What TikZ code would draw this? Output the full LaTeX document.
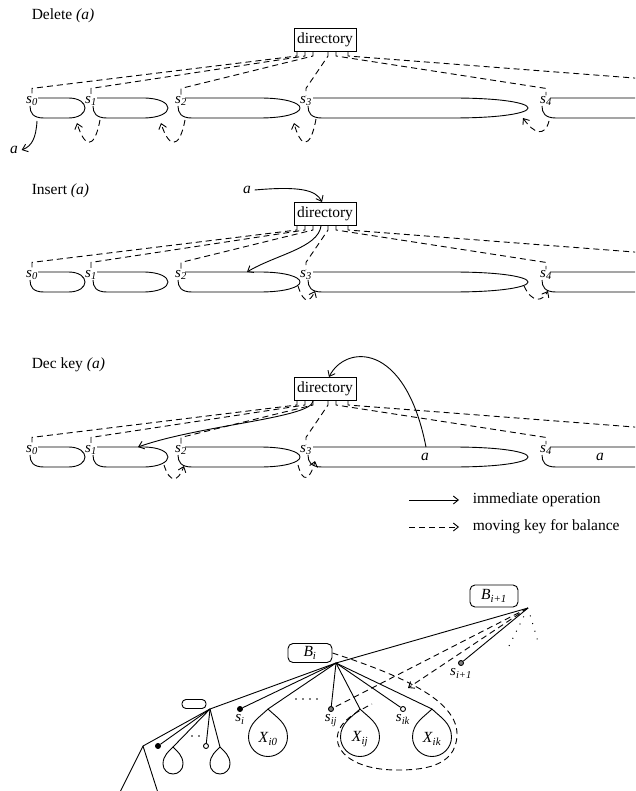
\documentclass[tikz,border=0pt]{standalone}
\usepackage{fontspec}
\setmainfont{Liberation Serif}
\usetikzlibrary{calc,positioning,arrows.meta}

% one block of keys lying on its side
\newcommand\keyloop[4]{%
  \pgfmathsetmacro\endlen{0.35*(#3-#2)}
  \draw (#2,#4) -- ({#3-\endlen},#4) .. controls ({#3-0.35*\endlen},#4) and (#3,{#4+5}) .. (#3,{#4+10})
    .. controls (#3,{#4+15}) and ({#3-0.35*\endlen},{#4+20}) .. ({#3-\endlen},{#4+20})
    -- ({#1+14},{#4+20}) .. controls ({#1+3},{#4+20}) and (#1,{#4+15}) .. (#1,{#4+8});
}
% subtree hanging from a named apex
\newcommand\teardrop[3]{%
  \draw (#1) .. controls +({-0.4*#2},{0.4*#2}) and +(0,{-0.5*#3}) .. ++({-#2},#3)
    .. controls +(0,{0.55*#2}) and +({-0.55*#2},0) .. ++(#2,#2)
    .. controls +({0.55*#2},0) and +(0,{0.55*#2}) .. ++(#2,{-#2})
    .. controls +(0,{-0.5*#3}) and +({0.4*#2},{0.4*#2}) .. (#1);
}
\tikzset{
  dirbox/.style={draw, rectangle, inner xsep=3pt, inner ysep=4.5pt},
  keylbl/.style={inner sep=0.5pt, font=\fontsize{15}{15}\selectfont},
  bbox/.style={draw, rounded corners=5pt, inner sep=1pt},
  mv/.style={dash pattern=on 6pt off 4pt},
  fdot/.style={circle, draw, fill=black, inner sep=0pt, minimum size=5pt},
  gdot/.style={circle, draw, fill=gray, inner sep=0pt, minimum size=5pt},
  odot/.style={circle, draw, fill=white, inner sep=0pt, minimum size=5pt},
}
% directory, blocks and the dashed pointers of one panel
\newcommand\keypanel[2]{%
  \begin{scope}[shift={(0,#2)}]
    \node[dirbox] (#1dir) at (325,40) {directory};
    \foreach \x/\n in {32/0,91/1,181/2,306/3,546/4}
      \node[keylbl] (#1s\n) at (\x,101) {\textit{s}\textsubscript{\textit{\n}}};
    \keyloop{30}{38}{85}{98}
    \keyloop{93}{97}{168}{98}
    \keyloop{178}{185}{300}{98}
    \keyloop{308}{313}{528}{98}
    \keyloop{542}{550}{720}{98}
    \foreach \dx/\n in {-28/0,-20/1,-12/2,3/3,11/4}
      \draw[mv] ([xshift=\dx pt]#1dir.south) -- ++(0,4) -- ($(#1s\n.north)+(0,-7)$) -- (#1s\n.north);
    \draw[mv] ([xshift=23pt]#1dir.south) -- ++(0,4) -- (660,80);
  \end{scope}
}

\begin{document}
\begin{tikzpicture}[x=1pt,y=-1pt,line width=0.9pt,font=\fontsize{15.5}{18}\selectfont,
  >={Straight Barb[length=5pt,width=8pt]}]
  \useasboundingbox (0,0) rectangle (635,791);
  \clip (0,0) rectangle (635,791);

  % delete
  \node[anchor=west] (tdel) at (28,16) {Delete \textit{(a)}};
  \keypanel{d}{0}
  \node (da) at (14,150) {\textit{a}};
  \coordinate (d0b) at (37,121);
  \draw[->] (d0b) .. controls (36,138) and (32,146) .. (da.east);
  \coordinate (d0e) at (77,123);
  \coordinate (d1s) at (100,120);
  \coordinate (d1e) at (161,123);
  \coordinate (d2s) at (185,120);
  \coordinate (d2e) at (294,123);
  \coordinate (d3s) at (316,119);
  \coordinate (d3e) at (523,118);
  \coordinate (d4s) at (549,121);
  \draw[mv,->] (d1s) .. controls (94,152) and (84,146) .. (d0e);
  \draw[mv,->] (d2s) .. controls (179,152) and (168,146) .. (d1e);
  \draw[mv,->] (d3s) .. controls (310,152) and (300,146) .. (d2e);
  \draw[mv,->] (d4s) .. controls (545,137) and (534,134) .. (d3e);

  % insert
  \node[anchor=west] (tins) at (28,191) {Insert \textit{(a)}};
  \keypanel{i}{174}
  \node (ia) at (247,190) {\textit{a}};
  \draw[->] (ia.east) .. controls (300,186) and (316,190) .. ([xshift=-3pt]idir.north);
  \coordinate (i2t) at (247,272);
  \draw[->] ([xshift=-4pt]idir.south) .. controls (318,248) and (275,255) .. (i2t);
  \coordinate (i2e) at (298,286);
  \coordinate (i3s) at (315,291);
  \coordinate (i3e) at (524,286);
  \coordinate (i4s) at (548,291);
  \draw[mv,->] (i2e) .. controls (304,305) and (310,302) .. (i3s);
  \draw[mv,->] (i3e) .. controls (532,303) and (542,302) .. (i4s);

  % decrease key
  \node[anchor=west] (tdec) at (28,365) {Dec key \textit{(a)}};
  \keypanel{k}{349}
  \node (ka3) at (425,457) {\textit{a}};
  \node (ka4) at (600,457) {\textit{a}};
  \coordinate (k3t) at (426,447);
  \draw[->] (k3t) .. controls (405,340) and (345,345) .. ([xshift=4pt]kdir.north);
  \coordinate (k1t) at (138,447);
  \draw[->] ([xshift=-12pt]kdir.south) .. controls (312,418) and (200,425) .. (k1t);
  \coordinate (k1e) at (164,465);
  \coordinate (k2s) at (184,466);
  \coordinate (k2e) at (298,465);
  \coordinate (k3s) at (315,461);
  \draw[mv,->] (k1e) .. controls (170,484) and (178,482) .. (k2s);
  \draw[mv,->] (k2e) .. controls (303,484) and (310,480) .. (k3s);

  % legend
  \node[anchor=west] (leg1) at (469,500) {immediate operation};
  \node[anchor=west] (leg2) at (469,527) {moving key for balance};
  \draw[->] ([xshift=-60pt]leg1.west) -- ([xshift=-10pt]leg1.west);
  \draw[mv,->] ([xshift=-60pt]leg2.west) -- ([xshift=-10pt]leg2.west);

  % buckets
  \node[bbox, minimum width=48pt, minimum height=22pt] (bup) at (494,596) {\textit{B}\textsubscript{\textit{i+1}}};
  \node[bbox, minimum width=44pt, minimum height=19pt] (bcur) at (310,653) {\textit{B}\textsubscript{\textit{i}}};
  \node[bbox, minimum width=24pt, minimum height=9pt, rounded corners=4pt] (blow) at (194,704) {};
  \coordinate (pup) at (528,608);
  \coordinate (pcur) at (336,663);
  \coordinate (plow) at (210,709);
  \coordinate (pbot) at (143,746);
  \coordinate (ebl) at (118,796);
  \coordinate (ebr) at (159,796);
  \draw (pup) -- (pcur) -- (plow) -- (pbot) -- (ebl);
  \draw (pbot) -- (ebr);

  \node[fdot] (si) at (240,709) {};
  \node[gdot] (sij) at (331,709) {};
  \node[odot] (sik) at (403,709) {};
  \node[gdot] (sup) at (461,663) {};
  \node[fdot] (sa) at (158,746) {};
  \node[odot] (sb) at (206,746) {};
  \node[keylbl, below=2pt of si] (lsi) {\textit{s}\textsubscript{\textit{i}}};
  \node[keylbl, below=2pt of sij] (lsij) {\textit{s}\textsubscript{\textit{ij}}};
  \node[keylbl, below=2pt of sik] (lsik) {\textit{s}\textsubscript{\textit{ik}}};
  \node[keylbl, below=2pt of sup] (lsup) {\textit{s}\textsubscript{\textit{i+1}}};

  \coordinate (xi0) at (268,709);
  \coordinate (xij) at (360,709);
  \coordinate (xik) at (432,709);
  \coordinate (ya) at (173,747);
  \coordinate (yb) at (220,747);
  \teardrop{xi0}{19.5}{28}
  \teardrop{xij}{19.5}{28}
  \teardrop{xik}{19.5}{28}
  \teardrop{ya}{10}{17}
  \teardrop{yb}{10}{17}
  \node (lxi0) at (268,739) {\textit{X}\textsubscript{\textit{i0}}};
  \node (lxij) at (360,739) {\textit{X}\textsubscript{\textit{ij}}};
  \node (lxik) at (432,739) {\textit{X}\textsubscript{\textit{ik}}};

  \foreach \t in {si,xi0,sij,xij,sik,xik}
    \draw (pcur) -- (\t);
  \foreach \t in {sa,ya,sb,yb}
    \draw (plow) -- (\t);
  \draw (pup) -- (sup);
  \foreach \x in {296,303,310,317}
    \fill (\x,699) circle (0.8);
  \foreach \x in {192,199}
    \fill (\x,736) circle (0.8);

  % moves between buckets
  \coordinate (mvtip) at (408,688);
  \draw[mv] (pup) -- (sij);
  \draw[mv,->] (pup) -- (mvtip);
  \draw[mv] (bcur.east) .. controls (400,675) and (458,700) .. (457,735)
    .. controls (456,768) and (420,770) .. (397,770)
    .. controls (355,770) and (333,752) .. (338,733)
    .. controls (341,722) and (352,714) .. (372,704);
  \coordinate (dt1) at (507,650);
  \coordinate (dt2) at (539,645);
  \draw[dash pattern=on 1pt off 7pt, line width=1pt] ($(pup)!0.2!(dt1)$) -- (dt1);
  \draw[dash pattern=on 1pt off 7pt, line width=1pt] ($(pup)!0.2!(dt2)$) -- (dt2);
\end{tikzpicture}
\end{document}
